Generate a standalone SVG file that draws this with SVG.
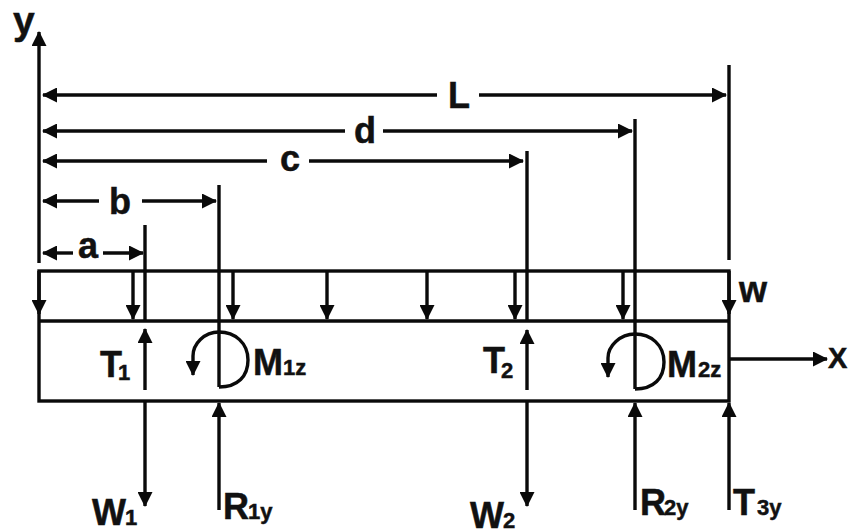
<svg xmlns="http://www.w3.org/2000/svg" width="850" height="529" viewBox="0 0 850 529">
<style>
.l{stroke:#0a0a0a;stroke-width:3.4;fill:none}
.t{font-family:"Liberation Sans",Arial,sans-serif;font-weight:700;fill:#111;stroke:#111;stroke-width:.5}
.s{font-size:36px}
.m{font-size:22px}
</style>
<defs>
<marker id="ah" viewBox="0 0 15 15" refX="14" refY="7.5" markerWidth="15" markerHeight="15" markerUnits="userSpaceOnUse" orient="auto-start-reverse"><path d="M0 0L15 7.5L0 15Z" fill="#0a0a0a"/></marker>
</defs>
<rect width="850" height="529" fill="#fff"/>
<g id="beam"><rect class="l" x="39" y="271" width="690" height="130"/><path class="l" d="M39 321H729"/></g>
<g id="connectors">
<path class="l" marker-end="url(#ah)" d="M39 263V32"/>
<path class="l" marker-start="url(#ah)" d="M43 95H437"/><path class="l" marker-end="url(#ah)" d="M479 95H726"/>
<path class="l" marker-start="url(#ah)" d="M43 131H345"/><path class="l" marker-end="url(#ah)" d="M383 131H632"/>
<path class="l" marker-start="url(#ah)" d="M43 161H267"/><path class="l" marker-end="url(#ah)" d="M309 161H523"/>
<path class="l" marker-start="url(#ah)" d="M43 201H99"/><path class="l" marker-end="url(#ah)" d="M142 201H216"/>
<path class="l" marker-start="url(#ah)" d="M43 253H73"/><path class="l" marker-end="url(#ah)" d="M103 253H143"/>
<path class="l" d="M145 225V321M219 185V387M527 151V321M635 119V389M729 65V260"/>
<path class="l" marker-end="url(#ah)" d="M145 390V329"/>
<path class="l" marker-end="url(#ah)" d="M527 390V330"/>
<path class="l" marker-end="url(#ah)" d="M145 401V506"/>
<path class="l" marker-end="url(#ah)" d="M527 401V506"/>
<path class="l" marker-end="url(#ah)" d="M219 510V403"/>
<path class="l" marker-end="url(#ah)" d="M635 510V403"/>
<path class="l" marker-end="url(#ah)" d="M729 510V403"/>
<path class="l" marker-end="url(#ah)" d="M39 271V314"/>
<path class="l" marker-end="url(#ah)" d="M133 271V319"/>
<path class="l" marker-end="url(#ah)" d="M233 271V319"/>
<path class="l" marker-end="url(#ah)" d="M327 271V319"/>
<path class="l" marker-end="url(#ah)" d="M427 271V319"/>
<path class="l" marker-end="url(#ah)" d="M515 271V319"/>
<path class="l" marker-end="url(#ah)" d="M623 271V319"/>
<path class="l" marker-end="url(#ah)" d="M729 271V314"/>
<path class="l" marker-end="url(#ah)" d="M729 359H827"/>
<path class="l" marker-end="url(#ah)" d="M219 387C238 387 248 376 248 360C248 343 235 332 219 332C204 332 193 344 193 356V375"/>
<path class="l" marker-end="url(#ah)" d="M635 389C654 389 664 378 664 362C664 345 651 334 635 334C620 334 608 346 608 358V377"/>
</g>
<g id="labels">
<text class="t" x="13" y="34" font-size="39">y</text>
<text class="t s" x="448" y="108">L</text>
<text class="t s" x="354" y="143">d</text>
<text class="t s" x="280" y="171">c</text>
<text class="t s" x="109" y="214">b</text>
<text class="t s" x="78" y="258">a</text>
<text class="t s" x="100" y="377">T</text><text class="t m" x="118" y="380">1</text>
<text class="t s" x="253" y="375">M</text><text class="t m" x="283" y="375">1z</text>
<text class="t s" x="483" y="373">T</text><text class="t m" x="501" y="378">2</text>
<text class="t s" x="667" y="377">M</text><text class="t m" x="698" y="377">2z</text>
<text class="t s" x="739" y="302">w</text>
<text class="t" x="828" y="368" font-size="29">X</text>
<text class="t s" x="92" y="525">W</text><text class="t m" x="125" y="525">1</text>
<text class="t s" x="223" y="519">R</text><text class="t m" x="248" y="519">1y</text>
<text class="t s" x="470" y="528">W</text><text class="t m" x="503" y="528">2</text>
<text class="t s" x="640" y="515">R</text><text class="t m" x="664" y="515">2y</text>
<text class="t s" x="733" y="515">T</text><text class="t m" x="757" y="515">3y</text>
</g>
</svg>
